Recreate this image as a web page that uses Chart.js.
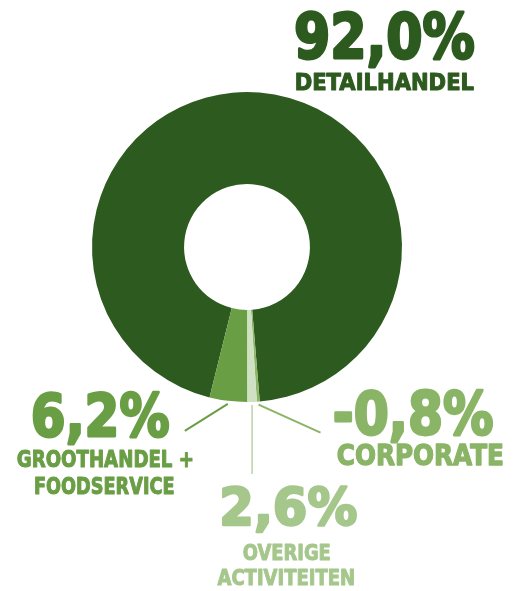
<!DOCTYPE html>
<html>
<head>
<meta charset="utf-8">
<script src="https://cdn.jsdelivr.net/npm/chart.js@4"></script>
<style>
  html, body { margin: 0; padding: 0; background: #fff; }
  #wrap { width: 522px; height: 591px; position: relative; }
</style>
</head>
<body>
<div id="wrap"><canvas id="myChart"></canvas></div>
<script>
// segments in the order they run clockwise round the ring
const categories = ['Detailhandel', 'Corporate', 'Overige activiteiten', 'Groothandel + foodservice'];
// percentages printed next to the ring
const percentValues = [92.0, -0.8, 2.6, 6.2];
// share of the ring each segment takes in the picture (drawn not to scale with the printed values)
const ringShare = [94.8, 0.3, 1.0, 3.9];
// label lines under each percentage
const nameLines = [['DETAILHANDEL'], ['CORPORATE'], ['OVERIGE', 'ACTIVITEITEN'], ['GROOTHANDEL +', 'FOODSERVICE']];

const segmentColors = ['#2d5a1e', '#8ab466', '#cfe1c2', '#6a9e45'];
const textColors = ['#2d5a1e', '#8ab466', '#a5c78c', '#6a9e45'];
const lineColors = [null, '#8ab466', '#b9d4a6', '#6a9e45'];

// text boxes: [left, right, top, baseline]
const valueBoxes = [[295, 475, 10, 59], [334, 494, 388, 435], [222, 357, 485, 526], [32, 170, 390, 437]];
const nameBoxes = [
    [[296, 474, 73, 91]],
    [[337, 503, 444, 466]],
    [[243, 330, 544, 561], [217, 354, 569, 586]],
    [[17, 193, 450, 468], [35, 174, 477, 495]]
];
// leader line run from the ring edge
const leaders = [null, { dx: 62, dy: 28, w: 2 }, { dx: 0, dy: 69, w: 1.5 }, { dx: -43, dy: 27, w: 2 }];

function fmt(v) {
    return v.toFixed(1).replace('.', ',') + '%';
}

// fits the ink of a string into a box, with a thin stroke to make it heavier
function fitText(c, text, box, color) {
    const [left, right, top, bottom] = box;
    const lw = (bottom - top) * 0.06;
    c.save();
    c.font = 'bold 100px "DejaVu Sans"';
    const m = c.measureText(text);
    const size = 100 * (bottom - top - lw) / m.actualBoundingBoxAscent;
    c.font = 'bold ' + size + 'px "DejaVu Sans"';
    const m2 = c.measureText(text);
    const ink = m2.actualBoundingBoxLeft + m2.actualBoundingBoxRight;
    const sx = (right - left - lw) / ink;
    c.translate(left + lw / 2, bottom - lw / 2);
    c.scale(sx, 1);
    c.fillStyle = color;
    c.strokeStyle = color;
    c.lineWidth = lw;
    c.lineJoin = 'round';
    c.textAlign = 'left';
    c.textBaseline = 'alphabetic';
    c.fillText(text, m2.actualBoundingBoxLeft, 0);
    c.strokeText(text, m2.actualBoundingBoxLeft, 0);
    c.restore();
}

const labelPlugin = {
    id: 'labels',
    afterDraw(chart) {
        const c = chart.ctx;
        const arcs = chart.getDatasetMeta(0).data;
        arcs.forEach((arc, i) => {
            const lead = leaders[i];
            if (lead) {
                const p = arc.getProps(['x', 'y', 'startAngle', 'endAngle', 'outerRadius'], true);
                const mid = (p.startAngle + p.endAngle) / 2;
                const r = p.outerRadius + 3;
                const sx = p.x + Math.cos(mid) * r;
                const sy = p.y + Math.sin(mid) * r;
                c.save();
                c.strokeStyle = lineColors[i];
                c.lineWidth = lead.w;
                c.beginPath();
                c.moveTo(sx, sy);
                c.lineTo(sx + lead.dx, sy + lead.dy);
                c.stroke();
                c.restore();
            }
            fitText(c, fmt(percentValues[i]), valueBoxes[i], textColors[i]);
            nameLines[i].forEach((line, j) => fitText(c, line, nameBoxes[i][j], textColors[i]));
        });
    }
};

const ctx = document.getElementById('myChart').getContext('2d');
const myChart = new Chart(ctx, {
    type: 'doughnut',
    data: {
        labels: categories,
        datasets: [{
            data: ringShare,
            backgroundColor: segmentColors,
            borderWidth: 0,
            hoverOffset: 0
        }]
    },
    options: {
        responsive: true,
        maintainAspectRatio: false,
        animation: false,
        events: [],
        rotation: 194,
        cutout: '40.6%',
        layout: {
            padding: { left: 92, right: 120, top: 92, bottom: 189 }
        },
        plugins: {
            legend: { display: false },
            tooltip: { enabled: false }
        }
    },
    plugins: [labelPlugin]
});
</script>
</body>
</html>
